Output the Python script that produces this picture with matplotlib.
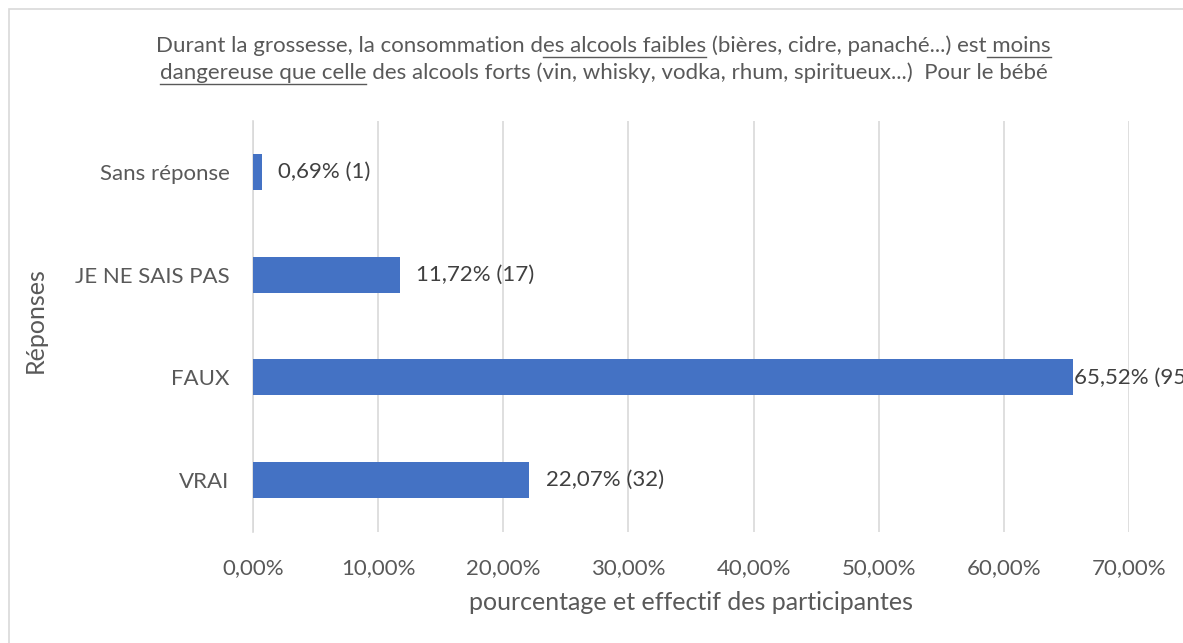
import matplotlib
matplotlib.use('Agg')
import matplotlib.pyplot as plt
from matplotlib.patches import Rectangle
from matplotlib.lines import Line2D

categories = ['VRAI', 'FAUX', 'JE NE SAIS PAS', 'Sans réponse']
percents = [22.07, 65.52, 11.72, 0.69]
counts = [32, 95, 17, 1]
xticks = [0, 10, 20, 30, 40, 50, 60, 70]

# title pieces: (text, underlined)
title_lines = [
    [('Durant la grossesse, la consommation d', False), ('es alcools faibles', True),
     (' (bières, cidre, panaché...) est', False), (' moins', True)],
    [('dangereuse que celle', True),
     (' des alcools forts (vin, whisky, vodka, rhum, spiritueux...)  Pour le bébé', False)],
]

plt.rcParams['font.family'] = ['Lato', 'DejaVu Sans']
txt = '#595959'
W, H = 1183, 643
fig = plt.figure(figsize=(W / 100, H / 100), dpi=100)
fig.patches.append(Rectangle((9 / W, -0.1), 1.2, 1 - 9 / H + 0.1, transform=fig.transFigure,
                             fill=False, edgecolor='#d9d9d9', linewidth=1.2))

ax = fig.add_axes([253 / W, 1 - 531.5 / H, (1129 - 253) / W, (531.5 - 120.5) / H])
ypos = list(range(len(categories)))
ax.barh(ypos, percents, height=0.35, color='#4472c4', zorder=3)
ax.set_xlim(0, 70)
ax.set_ylim(-0.5, len(categories) - 0.5)
ax.set_xticks(xticks)
ax.set_xticklabels(['%d,00%%' % t for t in xticks], fontsize=16, color=txt)
ax.set_yticks(ypos)
ax.set_yticklabels(categories, fontsize=16, color=txt)
ax.tick_params(axis='both', length=0)
ax.tick_params(axis='x', pad=19)
ax.tick_params(axis='y', pad=17)
ax.grid(True, axis='x', color='#d9d9d9', linewidth=1.2, zorder=0)
for s in ['top', 'right', 'bottom']:
    ax.spines[s].set_visible(False)
ax.spines['left'].set_color('#d9d9d9')
ax.spines['left'].set_linewidth(1.2)

for y, p, c in zip(ypos, percents, counts):
    lab = ('%.2f' % p).replace('.', ',') + '% (' + str(c) + ')'
    off = 1 if p > 60 else 12
    ax.annotate(lab, (p, y), xytext=(off, 0), textcoords='offset points', va='center',
                ha='left', fontsize=16, color='#404040', annotation_clip=False)

ax.set_xlabel('pourcentage et effectif des participantes', fontsize=18, color=txt)
ax.xaxis.set_label_coords(691 / W, 1 - 603 / H, transform=fig.transFigure)
ax.xaxis.label.set_va('center')
ax.set_ylabel('Réponses', fontsize=18, color=txt)
ax.yaxis.set_label_coords(35 / W, 1 - 320 / H, transform=fig.transFigure)
ax.yaxis.label.set_va('center')

# title with underlined parts
renderer = fig.canvas.get_renderer()
title_fs = 16
def text_w(s):
    t = fig.text(0, 0, s + 'x', fontsize=title_fs)
    t2 = fig.text(0, 0, 'x', fontsize=title_fs)
    w = t.get_window_extent(renderer).width - t2.get_window_extent(renderer).width
    t.remove()
    t2.remove()
    return w

for i, pieces in enumerate(title_lines):
    yc = 46 + i * 27
    full = ''.join(p for p, u in pieces)
    total = text_w(full)
    x0 = (W - total) / 2 + 12
    fig.text(x0 / W, 1 - yc / H, full, fontsize=title_fs, color=txt, ha='left', va='center')
    prefix = ''
    for p, u in pieces:
        if u:
            a = x0 + text_w(prefix)
            b = x0 + text_w(prefix + p)
            yl = 1 - (yc + 11) / H
            fig.add_artist(Line2D([a / W, b / W], [yl, yl], transform=fig.transFigure,
                                  color=txt, linewidth=1))
        prefix += p

fig.savefig('out.png', dpi=100)
